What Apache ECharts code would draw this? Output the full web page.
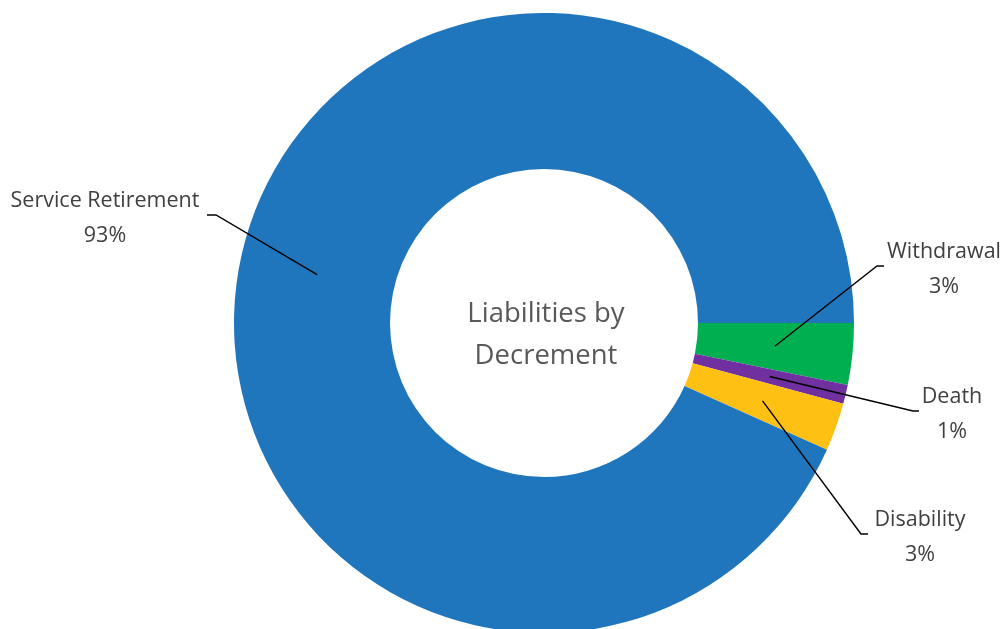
<!DOCTYPE html>
<html>
<head>
<meta charset="utf-8">
<script src="https://cdn.jsdelivr.net/npm/echarts@6/dist/echarts.min.js"></script>
<style>
  html, body { margin: 0; padding: 0; background: #fff; }
  #main { width: 1006px; height: 629px; }
</style>
</head>
<body>
<div id="main"></div>
<script>
const categories = ['Withdrawal', 'Death', 'Disability', 'Service Retirement'];
const shares = [3.2, 1.0, 2.5, 93.3];
const sliceColors = ['#00b050', '#7030a0', '#ffc014', '#2076bd'];

// where each label sits, and where its leader line bends (layout only)
const labelSpots = [
  { x: 944, y: 267, bendX: 877, endX: 884 },
  { x: 952, y: 412, bendX: 913, endX: 919 },
  { x: 920, y: 535, bendX: 861, endX: 868 },
  { x: 105, y: 216, bendX: 216, endX: 207 }
];

const cx = 544, cy = 323, rIn = 154, rOut = 310;
const lineStartR = 232;

const total = shares.reduce((a, b) => a + b, 0);

// mid angle of a slice, clockwise from 3 o'clock (start angle 0)
function midAngle(i) {
  let before = 0;
  for (let k = 0; k < i; k++) before += shares[k];
  return ((before + shares[i] / 2) / total) * Math.PI * 2;
}

const pieData = categories.map((name, i) => ({ name, value: shares[i] }));

const chart = echarts.init(document.getElementById('main'));

chart.setOption({
  animation: false,
  color: sliceColors,
  graphic: [
    {
      type: 'text',
      x: 546,
      y: 335,
      style: {
        text: 'Liabilities by\nDecrement',
        fill: '#595959',
        font: '27.5px "Open Sans"',
        lineHeight: 42,
        textAlign: 'center',
        textVerticalAlign: 'middle'
      }
    }
  ],
  series: [
    {
      // the ring itself
      type: 'pie',
      z: 2,
      center: [cx, cy],
      radius: [rIn, rOut],
      startAngle: 0,
      clockwise: true,
      silent: true,
      emphasis: { disabled: true },
      label: { show: false },
      labelLine: { show: false },
      data: pieData
    },
    {
      // invisible copy on top, only for labels and leader lines
      type: 'pie',
      z: 5,
      center: [cx, cy],
      radius: [0, lineStartR],
      startAngle: 0,
      clockwise: true,
      silent: true,
      avoidLabelOverlap: false,
      emphasis: { disabled: true },
      itemStyle: { color: 'rgba(0,0,0,0)' },
      data: pieData,
      label: {
        show: true,
        position: 'outside',
        color: '#404040',
        fontFamily: 'Open Sans',
        fontSize: 21.5,
        lineHeight: 35,
        align: 'center',
        formatter: (p) => p.name + '\n' + Math.round(p.percent) + '%'
      },
      labelLine: {
        show: true,
        length: 20,
        length2: 10,
        lineStyle: { color: '#000', width: 1.4 }
      },
      labelLayout: (params) => {
        const i = params.dataIndex;
        const spot = labelSpots[i];
        const a = midAngle(i);
        const sx = cx + lineStartR * Math.cos(a);
        const sy = cy + lineStartR * Math.sin(a);
        return {
          x: spot.x,
          y: spot.y + 2,
          align: 'center',
          verticalAlign: 'middle',
          labelLinePoints: [[sx, sy], [spot.bendX, spot.y - 1], [spot.endX, spot.y - 1]]
        };
      }
    }
  ]
});
</script>
</body>
</html>
